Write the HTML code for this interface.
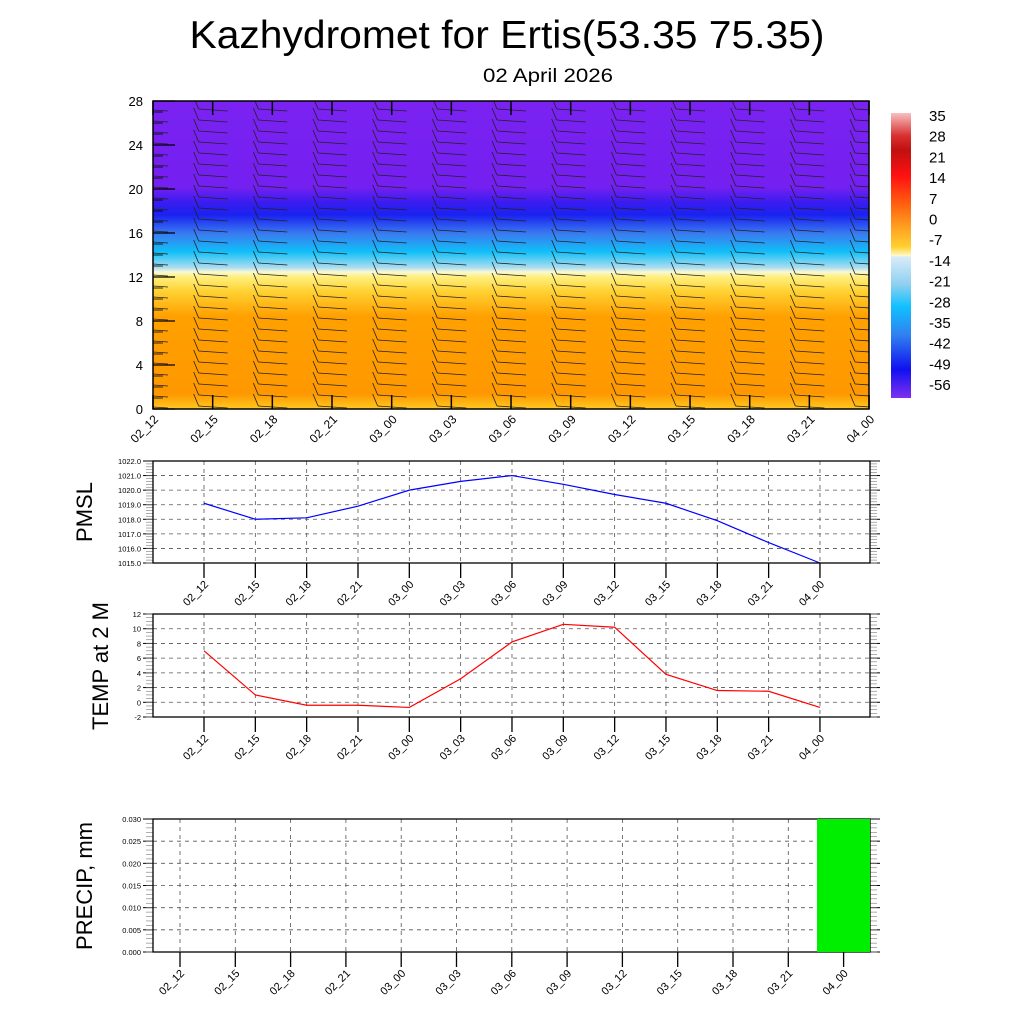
<!DOCTYPE html>
<html><head><meta charset="utf-8"><style>
body{margin:0;background:#fff}
svg{display:block;font-family:"Liberation Sans",sans-serif}
</style></head><body>
<svg id="s" width="1024" height="1024" xmlns="http://www.w3.org/2000/svg">
<defs>
<linearGradient id="tg" x1="0" y1="0" x2="0" y2="1">
<stop offset="0" stop-color="#7a22f2"/>
<stop offset="0.28" stop-color="#7420f0"/>
<stop offset="0.33" stop-color="#3a1cf0"/>
<stop offset="0.37" stop-color="#1a22f0"/>
<stop offset="0.43" stop-color="#3a7af0"/>
<stop offset="0.49" stop-color="#10c0f8"/>
<stop offset="0.54" stop-color="#a8dcf0"/>
<stop offset="0.555" stop-color="#f8f8d8"/>
<stop offset="0.57" stop-color="#fff080"/>
<stop offset="0.62" stop-color="#ffd030"/>
<stop offset="0.7" stop-color="#ffa000"/>
<stop offset="0.95" stop-color="#ff9800"/>
<stop offset="1" stop-color="#ffc820"/>
</linearGradient>
<linearGradient id="cb" x1="0" y1="0" x2="0" y2="1">
<stop offset="0" stop-color="#f8c0c0"/>
<stop offset="0.08" stop-color="#d83030"/>
<stop offset="0.13" stop-color="#c01010"/>
<stop offset="0.22" stop-color="#ff1010"/>
<stop offset="0.32" stop-color="#ff6010"/>
<stop offset="0.4" stop-color="#ffa020"/>
<stop offset="0.47" stop-color="#ffd030"/>
<stop offset="0.5" stop-color="#fff8c8"/>
<stop offset="0.505" stop-color="#d8ecf8"/>
<stop offset="0.6" stop-color="#90d0f0"/>
<stop offset="0.68" stop-color="#10c0ff"/>
<stop offset="0.78" stop-color="#3080f0"/>
<stop offset="0.9" stop-color="#1010f0"/>
<stop offset="1" stop-color="#8030f0"/>
</linearGradient>
<clipPath id="cp"><rect x="153" y="101" width="716" height="308"/></clipPath>
</defs>
<text x="507" y="48" font-size="39" text-anchor="middle" textLength="635" lengthAdjust="spacingAndGlyphs">Kazhydromet for Ertis(53.35 75.35)</text>
<text x="548" y="82" font-size="19" text-anchor="middle" textLength="130" lengthAdjust="spacingAndGlyphs">02 April 2026</text>
<rect x="153" y="101" width="716" height="308" fill="url(#tg)"/>
<g id="barbs" clip-path="url(#cp)" stroke="#222" stroke-width="0.9"></g>
<rect x="153" y="101" width="716" height="308" fill="none" stroke="#000" stroke-width="1.5"/>
<rect x="891" y="113" width="20" height="285" fill="url(#cb)"/>
<g id="g"></g>
<text transform="translate(92,512) rotate(-90)" font-size="22" text-anchor="middle">PMSL</text>
<text transform="translate(108,666) rotate(-90)" font-size="22" text-anchor="middle">TEMP at 2 M</text>
<text transform="translate(92,886) rotate(-90)" font-size="22" text-anchor="middle">PRECIP, mm</text>
<rect x="817" y="819" width="53" height="133" fill="#00ee00"/>
</svg>
<script>
var NS="http://www.w3.org/2000/svg",S=document.getElementById('g'),B=document.getElementById('barbs');
function el(p,t,a,txt){var e=document.createElementNS(NS,t);for(var k in a)e.setAttribute(k,a[k]);if(txt!=null)e.textContent=txt;p.appendChild(e);return e;}
function ln(p,x1,y1,x2,y2,c,w,d){var a={x1:x1,y1:y1,x2:x2,y2:y2,stroke:c||'#000','stroke-width':w||1};if(d)a['stroke-dasharray']=d;return el(p,'line',a);}
var labs=["02_12","02_15","02_18","02_21","03_00","03_03","03_06","03_09","03_12","03_15","03_18","03_21","04_00"];
for(var i=0;i<13;i++){var x=153+i*59.67;
 ln(S,x,409,x,395,'#000',1.5);ln(S,x,101,x,115,'#000',1.5);
 el(S,'text',{'font-size':12,'text-anchor':'end',transform:'translate('+(x+6)+',420) rotate(-45)'},labs[i]);
 for(var y=108;y<409;y+=11){
  var bx=x-14;ln(B,bx-5,y-11,bx,y+1,'#222',0.8);ln(B,bx,y+1,x+15,y+3,'#222',0.8);
 }}
for(var v=0;v<=28;v++){var y=409-v*11;var mj=v%4==0;
 ln(S,153,y,153+(mj?22:10),y,'#000',mj?1.3:0.8);
 if(mj)el(S,'text',{x:143,y:y+5,'font-size':13,'text-anchor':'end'},v);}
var cl=[35,28,21,14,7,0,-7,-14,-21,-28,-35,-42,-49,-56];
cl.forEach(function(c,k){el(S,'text',{x:929,y:121+k*20.7,'font-size':15},c);});
function panel(top,bot,ymin,ymax,step,fmt,xs,vals,col,minor){
 var h=bot-top;
 for(var v=ymin;v<=ymax+1e-9;v+=step){var y=bot-(v-ymin)/(ymax-ymin)*h;
  if(v>ymin&&v<ymax)ln(S,153,y,870,y,'#555',0.8,'4,4');
  ln(S,143,y,153,y,'#000',1);ln(S,870,y,880,y,'#000',1);
  el(S,'text',{x:141,y:y+3,'font-size':7.5,'text-anchor':'end'},fmt(v));}
 var ms=step/minor;for(var v=ymin;v<=ymax;v+=ms){var y=bot-(v-ymin)/(ymax-ymin)*h;ln(S,146,y,153,y,'#777',0.6);ln(S,870,y,877,y,'#777',0.6);}
 xs.forEach(function(x,i){ln(S,x,top,x,bot,'#555',0.8,'4,4');ln(S,x,bot,x,bot+15,'#000',1.3);
  el(S,'text',{'font-size':11,'text-anchor':'end',transform:'translate('+(x+5)+','+(bot+22)+') rotate(-45)'},labs[i]);});
 if(vals){var p=vals.map(function(v,i){return xs[i]+','+(bot-(v-ymin)/(ymax-ymin)*h);}).join(' ');
  el(S,'polyline',{points:p,fill:'none',stroke:col,'stroke-width':1.2});}
 el(S,'rect',{x:153,y:top,width:717,height:h,fill:'none',stroke:'#000','stroke-width':1.3});
}
var xa=[],xb=[];for(var i=0;i<13;i++){xa.push(204+i*51.33);xb.push(180+i*55.3);}
panel(461,563,1015,1022,1,function(v){return v.toFixed(1)},xa,[1019.1,1018.0,1018.1,1018.9,1020.0,1020.6,1021.0,1020.4,1019.7,1019.1,1017.9,1016.4,1015.0],'#0000ff',5);
panel(614,717,-2,12,2,function(v){return Math.round(v)},xa,[7,1,-0.4,-0.4,-0.7,3.2,8.2,10.6,10.2,3.8,1.6,1.5,-0.7],'#ff0000',4);
panel(819,952,0,0.03,0.005,function(v){return v.toFixed(3)},xb,null,null,5);
</script>
</body></html>
